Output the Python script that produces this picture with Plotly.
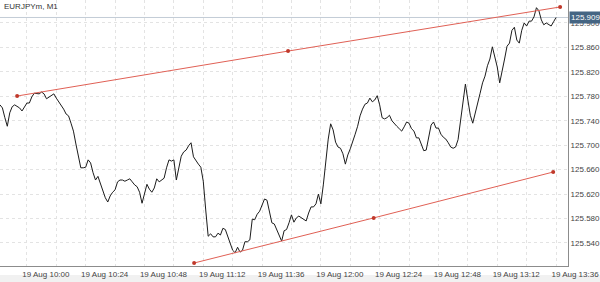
import plotly.graph_objects as go
import pandas as pd

title_text = "EURJPYm, M1"
start_time = "2024-08-19 09:49"

close_prices = [
    125.766, 125.761, 125.745, 125.731, 125.753, 125.763, 125.766, 125.764, 125.761, 125.756, 125.763,
    125.769, 125.769, 125.779, 125.785, 125.784, 125.784, 125.787, 125.784, 125.776, 125.779,
    125.782, 125.784, 125.777, 125.771, 125.766, 125.759, 125.751, 125.748, 125.736, 125.723,
    125.702, 125.679, 125.663, 125.663, 125.664, 125.676, 125.671, 125.655, 125.643, 125.649,
    125.636, 125.623, 125.614, 125.607, 125.617, 125.623, 125.627, 125.640, 125.643, 125.643,
    125.641, 125.643, 125.645, 125.640, 125.635, 125.632, 125.623, 125.605, 125.622, 125.636,
    125.628, 125.623, 125.630, 125.645, 125.640, 125.643, 125.646, 125.663, 125.676, 125.674,
    125.676, 125.643, 125.663, 125.682, 125.689, 125.692, 125.699, 125.704, 125.681, 125.674,
    125.669, 125.664, 125.641, 125.594, 125.551, 125.555, 125.550, 125.550, 125.556, 125.553,
    125.564, 125.562, 125.551, 125.538, 125.528, 125.524, 125.533, 125.525, 125.528, 125.542,
    125.542, 125.545, 125.579, 125.578, 125.587, 125.592, 125.602, 125.612, 125.610, 125.591,
    125.573, 125.571, 125.562, 125.554, 125.543, 125.560, 125.562, 125.573, 125.586, 125.574,
    125.581, 125.584, 125.581, 125.578, 125.576, 125.589, 125.599, 125.599, 125.604, 125.620,
    125.604, 125.635, 125.679, 125.710, 125.735, 125.725, 125.705, 125.697, 125.695, 125.686,
    125.669, 125.684, 125.694, 125.705, 125.718, 125.731, 125.748, 125.759, 125.767, 125.769,
    125.777, 125.771, 125.774, 125.781, 125.766, 125.745, 125.743, 125.745, 125.749, 125.740,
    125.735, 125.731, 125.727, 125.723, 125.730, 125.738, 125.736, 125.727, 125.723, 125.712,
    125.712, 125.700, 125.691, 125.692, 125.710, 125.733, 125.738, 125.728, 125.728, 125.718,
    125.713, 125.710, 125.704, 125.697, 125.695, 125.697, 125.709, 125.738, 125.767, 125.800,
    125.774, 125.749, 125.736, 125.751, 125.767, 125.785, 125.802, 125.813, 125.830, 125.841,
    125.861, 125.846, 125.828, 125.802, 125.820, 125.841, 125.862, 125.867, 125.888, 125.893,
    125.872, 125.867, 125.888, 125.900, 125.895, 125.903, 125.903, 125.910, 125.925, 125.920,
    125.905, 125.897, 125.900, 125.898, 125.895, 125.902, 125.909,
]

upper_trend_times = ["2024-08-19 09:56:00", "2024-08-19 11:46:36", "2024-08-19 13:37:40"]
upper_trend_prices = [125.7805, 125.854, 125.9262]
lower_trend_times = ["2024-08-19 11:08:15", "2024-08-19 12:21:34", "2024-08-19 13:34:50"]
lower_trend_prices = [125.5072, 125.581, 125.6561]

current_price = 125.909
current_label = "125.909"

x_range = ["2024-08-19 09:49:01", "2024-08-19 13:40:53"]
y_range = [125.5023, 125.9376]

times = pd.date_range(start_time, periods=len(close_prices), freq="1min")

fig = go.Figure()

fig.add_shape(type="line", xref="paper", x0=0, x1=1, yref="y", y0=current_price, y1=current_price,
              line=dict(color="#c3ccd6", width=1), layer="below")

fig.add_trace(go.Scatter(x=times, y=close_prices, mode="lines",
                         line=dict(color="#1c1c1c", width=1), showlegend=False, hoverinfo="skip"))

for tt, pp in [(upper_trend_times, upper_trend_prices), (lower_trend_times, lower_trend_prices)]:
    fig.add_trace(go.Scatter(x=pd.to_datetime(tt), y=pp, mode="lines+markers",
                             line=dict(color="#e06055", width=1),
                             marker=dict(color="#c0392b", size=4),
                             showlegend=False, hoverinfo="skip"))

fig.add_annotation(xref="paper", yref="paper", x=0.004, y=1.0, xanchor="left", yanchor="top",
                   text=title_text, showarrow=False, font=dict(size=8, color="#333333",
                   family="Liberation Sans, Arial, sans-serif"))

fig.add_annotation(xref="paper", yref="y", x=1.0, y=current_price, xanchor="left", yanchor="middle",
                   text=current_label, showarrow=False, bgcolor="#456583",
                   font=dict(size=8, color="#ffffff", family="Liberation Sans, Arial, sans-serif"),
                   borderpad=1, xshift=1)

# bottom toolbar band
fig.add_shape(type="rect", xref="paper", yref="paper", x0=0, x1=1.06, y0=-0.034, y1=-0.07,
              fillcolor="#f1f1f1", line=dict(width=0), layer="below")

fig.update_xaxes(
    type="date", range=x_range,
    tick0="2024-08-19 10:00", dtick=24 * 60 * 1000, tickformat="%d %b %H:%M",
    tickfont=dict(size=8, color="#444444", family="Liberation Sans, Arial, sans-serif"),
    ticklabelshift=19, ticks="",
    showline=True, linecolor="#8c8c8c", linewidth=1,
    showgrid=True, gridcolor="#e3e3e3", griddash="dot", gridwidth=1,
    minor=dict(dtick=12 * 60 * 1000, tick0="2024-08-19 10:00", showgrid=True,
               gridcolor="#e3e3e3", griddash="dot", gridwidth=1),
    zeroline=False, fixedrange=True,
)
fig.update_yaxes(
    side="right", range=y_range, tick0=125.5, dtick=0.04, tickformat=".3f",
    tickfont=dict(size=8, color="#444444", family="Liberation Sans, Arial, sans-serif"),
    ticks="", showline=True, linecolor="#8c8c8c", linewidth=1,
    showgrid=True, gridcolor="#e3e3e3", griddash="dot", gridwidth=1,
    zeroline=False, fixedrange=True,
)

fig.update_layout(
    width=600, height=282,
    margin=dict(l=0, r=30, t=0, b=16, pad=0),
    paper_bgcolor="#ffffff", plot_bgcolor="#ffffff",
    showlegend=False,
)

fig.write_html("out.html", config={"displayModeBar": False})
